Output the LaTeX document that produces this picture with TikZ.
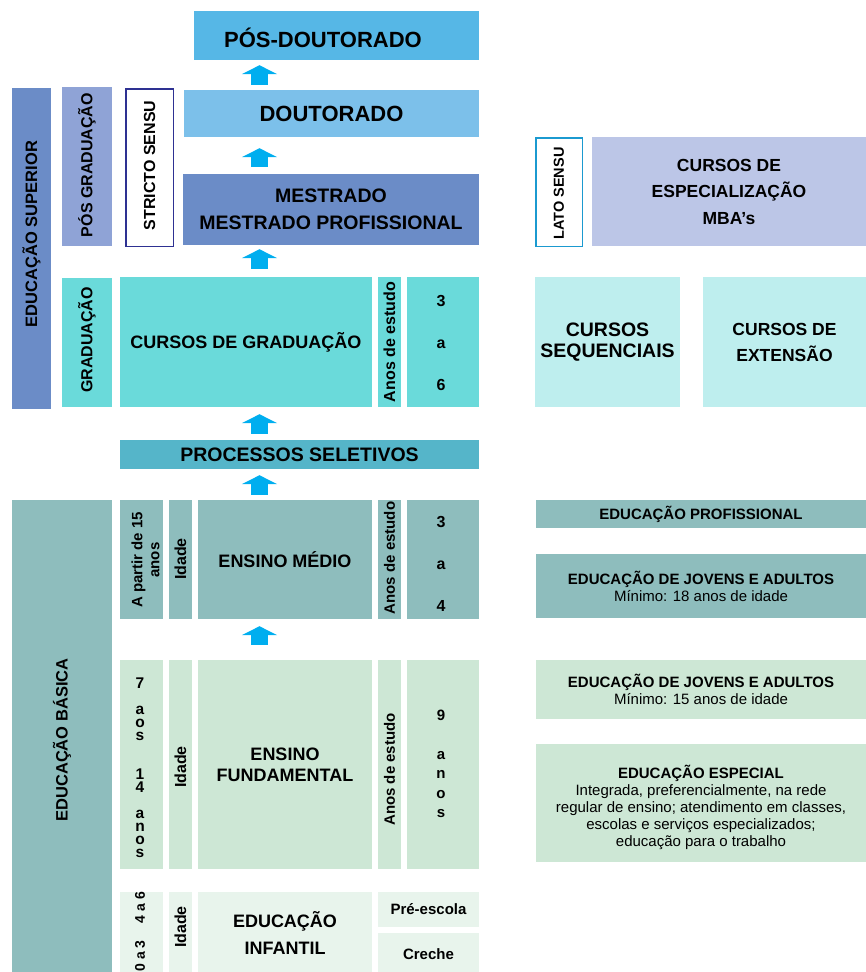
\documentclass[tikz,border=0pt]{standalone}
\usepackage{fontspec}
\setmainfont{Liberation Sans}
\usetikzlibrary{arrows.meta,calc}
\definecolor{cPosDoc}{HTML}{56B7E6}
\definecolor{cDout}{HTML}{7CC0EA}
\definecolor{cMest}{HTML}{6B8CC7}
\definecolor{cPosGr}{HTML}{8FA3D6}
\definecolor{cStr}{HTML}{2E3192}
\definecolor{cLato}{HTML}{1B9AD0}
\definecolor{cEsp}{HTML}{BCC6E7}
\definecolor{cGrad}{HTML}{6ADADA}
\definecolor{cSeq}{HTML}{BEEEEE}
\definecolor{cProc}{HTML}{55B5C9}
\definecolor{cBas}{HTML}{8EBDBD}
\definecolor{cFund}{HTML}{CDE7D5}
\definecolor{cInf}{HTML}{E8F4EC}
\definecolor{cArrow}{HTML}{00AEEF}
\newcommand\fs[2]{\fontsize{#1}{#2}\selectfont}
\newcommand\mybox[7]{%
 \pgfmathsetmacro\mcx{(#2+#4)/2}%
 \pgfmathsetmacro\mcy{(#3+#5)/2}%
 \pgfmathsetmacro\mw{#4-#2}%
 \pgfmathsetmacro\mh{#5-#3}%
 \node[blk,#6,minimum width=\mw pt,minimum height=\mh pt] (#1) at (\mcx,\mcy) {#7};}
\begin{document}
\begin{tikzpicture}[x=1pt,y=-1pt,
  blk/.style={rectangle,inner sep=0pt,align=center,font=\bfseries},
  vt/.style={rotate=90,inner sep=0pt,align=center,font=\bfseries},
  stack/.style={inner sep=0pt,align=center,anchor=north},
  upar/.style={draw=cArrow,line width=17pt,-{Triangle[width=35pt,length=9pt]}}]
\useasboundingbox (0,0) rectangle (866,972);
\clip (0,0) rectangle (866,972);
\coordinate (ax) at (259.5,0);
% ---------- Educacao superior ----------
\mybox{pos}{194}{11}{479}{60}{fill=cPosDoc}{}
\node[blk,font=\bfseries\fs{22}{26}] (tpos) at (323,38) {PÓS-DOUTORADO};
\mybox{dout}{184}{90}{479}{137}{fill=cDout,font=\bfseries\fs{22}{26}}{DOUTORADO}
\mybox{mes}{183}{174}{479}{245}{fill=cMest,font=\bfseries\fs{19.5}{27.5}}{MESTRADO\\MESTRADO PROFISSIONAL}
\mybox{edsup}{12}{88}{51}{409}{fill=cMest}{}
\node[vt,font=\bfseries\fs{16.5}{19}] (tedsup) at (31.5,234) {EDUCAÇÃO SUPERIOR};
\mybox{posgr}{62}{87}{112}{246}{fill=cPosGr}{}
\node[vt,font=\bfseries\fs{16}{19}] (tposgr) at (87,165) {PÓS GRADUAÇÃO};
\mybox{stri}{125.75}{88.75}{173.25}{246.25}{fill=white,draw=cStr,line width=1.5pt}{}
\node[vt,font=\bfseries\fs{16}{19}] (tstri) at (149.5,165.5) {STRICTO SENSU};
\mybox{lato}{535.75}{137.75}{582.25}{246.25}{fill=white,draw=cLato,line width=1.5pt}{}
\node[vt,font=\bfseries\fs{14.5}{17}] (tlato) at (559,193.5) {LATO SENSU};
\mybox{espc}{592}{137}{866}{246}{fill=cEsp,font=\bfseries\fs{17.5}{26.5}}{CURSOS DE\\ESPECIALIZAÇÃO\\MBA’s}
\mybox{grad}{62}{278}{112}{407}{fill=cGrad}{}
\node[vt,font=\bfseries\fs{16}{19}] (tgrad) at (87,340) {GRADUAÇÃO};
\mybox{cgrad}{120}{277}{372}{407}{fill=cGrad,font=\bfseries\fs{18}{22}}{CURSOS DE GRADUAÇÃO}
\mybox{anosg}{378}{277}{401}{407}{fill=cGrad}{}
\node[vt,font=\bfseries\fs{16}{19}] (tanosg) at (389.5,342) {Anos de estudo};
\mybox{numg}{407}{277}{479}{407}{fill=cGrad}{}
\node[stack,font=\bfseries\fs{16}{42}] (tnumg) at (441,295) {3\\a\\6};
\mybox{seq}{535}{277}{680}{407}{fill=cSeq,font=\bfseries\fs{19.5}{21}}{CURSOS\\SEQUENCIAIS}
\mybox{ext}{703}{277}{866}{407}{fill=cSeq,font=\bfseries\fs{17.5}{26}}{CURSOS DE\\EXTENSÃO}
\mybox{proc}{120}{440}{479}{469}{fill=cProc,font=\bfseries\fs{19.5}{22}}{PROCESSOS SELETIVOS}
% ---------- Educacao basica ----------
\mybox{edbas}{12}{500}{112}{980}{fill=cBas}{}
\node[vt,font=\bfseries\fs{16.5}{19}] (tedbas) at (62,740) {EDUCAÇÃO BÁSICA};
% medio
\mybox{agem}{120}{500}{163}{619}{fill=cBas}{}
\node[vt,font=\bfseries\fs{15}{17}] (tagem) at (145.5,560) {A partir de 15\\anos};
\mybox{idm}{169}{500}{192}{619}{fill=cBas}{}
\node[vt,font=\bfseries\fs{16}{19}] (tidm) at (180.5,559) {Idade};
\mybox{medio}{198}{500}{372}{619}{fill=cBas,font=\bfseries\fs{18}{21}}{ENSINO MÉDIO}
\mybox{anosm}{378}{500}{401}{619}{fill=cBas}{}
\node[vt,font=\bfseries\fs{15}{18}] (tanosm) at (389.5,558) {Anos de estudo};
\mybox{numm}{407}{500}{479}{619}{fill=cBas}{}
\node[stack,font=\bfseries\fs{16}{42}] (tnumm) at (441,516.5) {3\\a\\4};
% fundamental
\mybox{agef}{120}{660}{163}{869}{fill=cFund}{}
\node[stack,font=\bfseries\fs{15.5}{13}] (tagef) at (140,677.5) {7\\[13pt]a\\o\\s\\[26pt]1\\4\\[13pt]a\\n\\o\\s};
\mybox{idf}{169}{660}{192}{869}{fill=cFund}{}
\node[vt,font=\bfseries\fs{16}{19}] (tidf) at (180.5,767) {Idade};
\mybox{fund}{198}{660}{372}{869}{fill=cFund,font=\bfseries\fs{18}{21}}{ENSINO\\FUNDAMENTAL}
\mybox{anosf}{378}{660}{401}{869}{fill=cFund}{}
\node[vt,font=\bfseries\fs{15}{18}] (tanosf) at (389.5,769.5) {Anos de estudo};
\mybox{numf}{407}{660}{479}{869}{fill=cFund}{}
\node[stack,font=\bfseries\fs{15}{19.5}] (tnumf) at (441,709.5) {9\\[19.5pt]a\\n\\o\\s};
% infantil
\mybox{agei}{120}{892}{163}{980}{fill=cInf}{}
\node[vt,font=\bfseries\fs{14}{17}] (tagei1) at (140,907.5) {4 a 6};
\node[vt,font=\bfseries\fs{14}{17}] (tagei2) at (140,956) {0 a 3};
\mybox{idi}{169}{892}{192}{980}{fill=cInf}{}
\node[vt,font=\bfseries\fs{16}{19}] (tidi) at (180.5,927) {Idade};
\mybox{infa}{198}{892}{372}{980}{fill=cInf}{}
\node[blk,font=\bfseries\fs{18}{27}] (tinfa) at (285,933) {EDUCAÇÃO\\INFANTIL};
\mybox{pre}{378}{892}{479}{927}{fill=cInf,font=\bfseries\fs{15}{18}}{Pré-escola}
\mybox{cre}{378}{933}{479}{980}{fill=cInf}{}
\node[blk,font=\bfseries\fs{15}{18}] (tcre) at (428.5,954) {Creche};
% right column
\mybox{prof}{536}{500}{866}{528}{fill=cBas,font=\bfseries\fs{15}{17}}{EDUCAÇÃO PROFISSIONAL}
\mybox{eja18}{536}{554}{866}{618}{fill=cBas,font=\fs{15}{17}}{\textbf{EDUCAÇÃO DE JOVENS E ADULTOS}\\Mínimo: 18 anos de idade}
\mybox{eja15}{536}{660}{866}{719}{fill=cFund,font=\fs{15}{17}}{\textbf{EDUCAÇÃO DE JOVENS E ADULTOS}\\Mínimo: 15 anos de idade}
\mybox{espe}{536}{744}{866}{862}{fill=cFund}{}
\node[blk,font=\fs{15}{17}] (tespe) at (701,807) {\textbf{EDUCAÇÃO ESPECIAL}\\Integrada, preferencialmente, na rede\\regular de ensino; atendimento em classes,\\escolas e serviços especializados;\\educação para o trabalho};
% ---------- arrows ----------
\draw[upar,shorten <=5pt,shorten >=5pt] (dout.north -| ax) -- (pos.south -| ax);
\draw[upar,shorten <=7pt,shorten >=11pt] (mes.north -| ax) -- (dout.south -| ax);
\draw[upar,shorten <=8pt,shorten >=4pt] (cgrad.north -| ax) -- (mes.south -| ax);
\draw[upar,shorten <=6pt,shorten >=7pt] (proc.north -| ax) -- (cgrad.south -| ax);
\draw[upar,shorten <=5pt,shorten >=6pt] (medio.north -| ax) -- (proc.south -| ax);
\draw[upar,shorten <=15pt,shorten >=7pt] (fund.north -| ax) -- (medio.south -| ax);
\end{tikzpicture}
\end{document}
